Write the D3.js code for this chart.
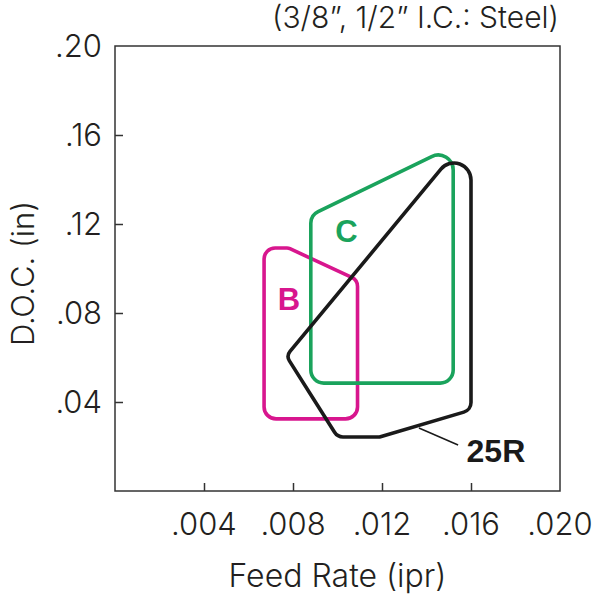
<!DOCTYPE html>
<html>
<head>
<meta charset="utf-8">
<script src="https://cdn.jsdelivr.net/npm/d3@7"></script>
<style>
    body { margin: 0; background: #fff; }
    svg text { font-family: Inter, "Open Sans", sans-serif; fill: #231f20; }
</style>
</head>
<body>
<div id="app"></div>
<script>
"use strict";

// axis ticks
const xTicks = [0.004, 0.008, 0.012, 0.016, 0.020];
const yTicks = [0.04, 0.08, 0.12, 0.16, 0.20];
const xTickLabels = [".004", ".008", ".012", ".016", ".020"];
const yTickLabels = [".04", ".08", ".12", ".16", ".20"];

// operating regions, [feed rate, depth of cut]
const regionB = [[0.0067, 0.1092], [0.0078, 0.1092], [0.0109, 0.0948], [0.0109, 0.0324], [0.0067, 0.0324]];
const regionC = [[0.0088, 0.1240], [0.0152, 0.1550], [0.0152, 0.0485], [0.0088, 0.0485]];
const region25R = [[0.0077, 0.0607], [0.0160, 0.1610], [0.0160, 0.0364], [0.0119, 0.0243], [0.0100, 0.0243]];

const regionNames = ["B", "C", "25R"];
const labelPos = [[0.00782, 0.0813], [0.0104, 0.1120], [0.0158, 0.0130]];
const calloutLine = [[0.01366, 0.0283], [0.01542, 0.0207]];

const width = 600, height = 600;
const margin = { left: 115, right: 40, top: 46, bottom: 109 };

const x = d3.scaleLinear().domain([0, 0.02]).range([margin.left, width - margin.right]);
const y = d3.scaleLinear().domain([0, 0.2]).range([height - margin.bottom, margin.top]);

const svg = d3.select("#app").append("svg")
    .attr("width", width)
    .attr("height", height);

// rounded-corner polygon through d3.path().arcTo
function roundedPath(pts, radii) {
    const p = d3.path();
    const px = pts.map(d => [x(d[0]), y(d[1])]);
    const n = px.length;
    p.moveTo((px[n - 1][0] + px[0][0]) / 2, (px[n - 1][1] + px[0][1]) / 2);
    for (let i = 0; i < n; i++) {
        const a = px[i], b = px[(i + 1) % n];
        p.arcTo(a[0], a[1], b[0], b[1], radii[i]);
    }
    p.closePath();
    return p.toString();
}

// frame
svg.append("rect")
    .attr("x", x(0)).attr("y", y(0.2))
    .attr("width", x(0.02) - x(0)).attr("height", y(0) - y(0.2))
    .attr("fill", "none").attr("stroke", "#333").attr("stroke-width", 1.5);

// inward ticks
const xAxis = d3.axisTop(x).tickValues(xTicks.slice(0, 4)).tickSize(8).tickFormat("");
svg.append("g").attr("transform", `translate(0,${y(0)})`).call(xAxis)
    .call(g => g.select(".domain").remove())
    .selectAll("line").attr("stroke", "#333").attr("stroke-width", 1.5);

const yAxis = d3.axisRight(y).tickValues(yTicks.slice(0, 4)).tickSize(8).tickFormat("");
svg.append("g").attr("transform", `translate(${x(0)},0)`).call(yAxis)
    .call(g => g.select(".domain").remove())
    .selectAll("line").attr("stroke", "#333").attr("stroke-width", 1.5);

// tick labels
svg.selectAll(".xlab").data(xTicks).enter().append("text")
    .attr("x", d => x(d)).attr("y", y(0) + 44)
    .attr("text-anchor", "middle")
    .style("font-size", "31px").style("font-weight", 300)
    .text((d, i) => xTickLabels[i]);

svg.selectAll(".ylab").data(yTicks).enter().append("text")
    .attr("x", x(0) - 13).attr("y", d => y(d))
    .attr("dy", "0.36em")
    .attr("text-anchor", "end")
    .style("font-size", "31px").style("font-weight", 300)
    .text((d, i) => yTickLabels[i]);

// axis titles
svg.append("text")
    .attr("x", (x(0) + x(0.02)) / 2).attr("y", 587)
    .attr("text-anchor", "middle")
    .style("font-size", "32px").style("font-weight", 300)
    .text("Feed Rate (ipr)");

svg.append("text")
    .attr("transform", `translate(34,${(y(0.2) + y(0)) / 2 + 5}) rotate(-90)`)
    .attr("text-anchor", "middle")
    .style("font-size", "31px").style("font-weight", 300)
    .text("D.O.C. (in)");

svg.append("text")
    .attr("x", x(0.02) - 1).attr("y", 28)
    .attr("text-anchor", "end")
    .style("font-size", "30px").style("font-weight", 300)
    .text("(3/8\u201D, 1/2\u201D I.C.: Steel)");

// regions
const regions = [
    { pts: regionB, radii: [11, 7, 10, 12, 12], color: "#d8168e" },
    { pts: regionC, radii: [13, 15, 13, 13], color: "#1aa35c" },
    { pts: region25R, radii: [8, 17, 10, 5, 10], color: "#1a1a1a" }
];

svg.selectAll(".region").data(regions).enter().append("path")
    .attr("d", d => roundedPath(d.pts, d.radii))
    .attr("fill", "none")
    .attr("stroke", d => d.color)
    .attr("stroke-width", 3.6)
    .attr("stroke-linejoin", "round");

svg.append("line")
    .attr("x1", x(calloutLine[0][0])).attr("y1", y(calloutLine[0][1]))
    .attr("x2", x(calloutLine[1][0])).attr("y2", y(calloutLine[1][1]))
    .attr("stroke", "#1a1a1a").attr("stroke-width", 1.5);

svg.selectAll(".rlab").data(regions).enter().append("text")
    .attr("x", (d, i) => x(labelPos[i][0])).attr("y", (d, i) => y(labelPos[i][1]))
    .attr("text-anchor", (d, i) => i == 2 ? "start" : "middle")
    .style("font-family", "'Liberation Sans', sans-serif")
    .style("font-size", (d, i) => i == 2 ? "32px" : "31px")
    .style("font-weight", "bold")
    .style("fill", d => d.color)
    .text((d, i) => regionNames[i]);
</script>
</body>
</html>
